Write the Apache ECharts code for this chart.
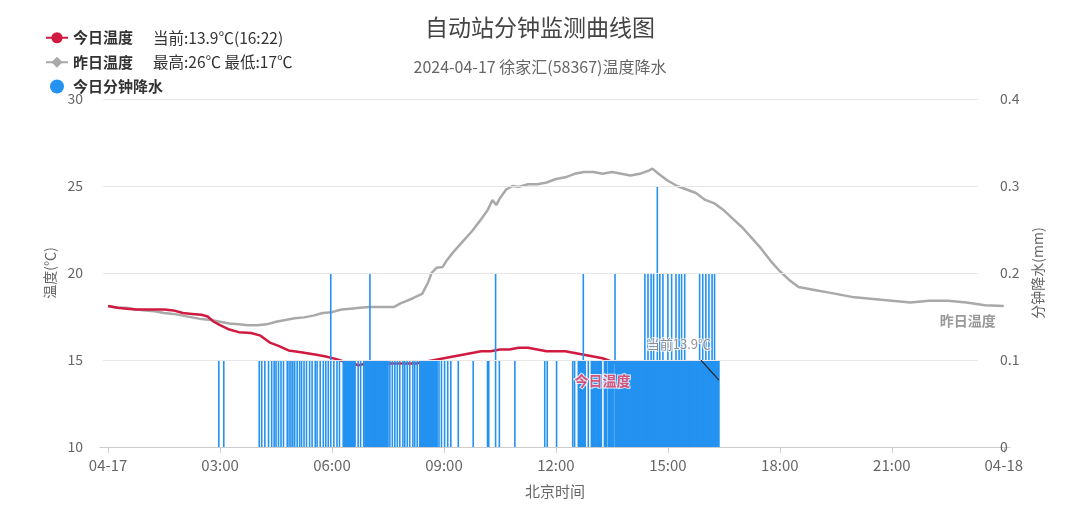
<!DOCTYPE html>
<html><head><meta charset="utf-8">
<script src="https://cdn.jsdelivr.net/npm/echarts@6/dist/echarts.min.js"></script>
<style>html,body{margin:0;padding:0;background:#fff}#c{width:1080px;height:522px}</style>
</head><body><div id="c"></div>
<script>
const chartTitle = '自动站分钟监测曲线图';
const dateLabel = '2024-04-17';
const stationName = '徐家汇(58367)';

const todayTimes = ['00:00','00:15','00:30','00:45','01:00','01:15','01:30','01:45','02:00','02:15','02:30','02:40','02:50','03:00','03:15','03:30','03:50','04:05','04:20','04:35','04:50','05:10','05:35','05:50','06:07','06:20','06:34','06:42','06:50','07:00','07:15','07:30','07:45','08:00','08:15','08:30','08:45','09:00','09:15','09:30','09:45','10:00','10:15','10:30','10:45','11:00','11:15','11:30','11:45','12:00','12:15','12:30','12:45','13:00','13:15','13:30','13:45','14:00','14:30','15:00','15:30','16:00','16:22'];
const todayTemps = [18.1,18.0,17.95,17.9,17.9,17.9,17.9,17.85,17.7,17.65,17.6,17.5,17.2,17.0,16.75,16.6,16.55,16.4,16.0,15.8,15.55,15.45,15.3,15.2,15.05,14.9,14.8,14.7,14.75,14.8,14.85,14.8,14.8,14.8,14.8,14.9,15.0,15.1,15.2,15.3,15.4,15.5,15.5,15.6,15.6,15.7,15.7,15.6,15.5,15.5,15.5,15.4,15.3,15.2,15.1,14.9,14.8,14.7,14.5,14.4,14.2,14.0,13.9];

const yesterdayTimes = ['00:00','00:15','00:30','00:45','01:00','01:15','01:30','01:45','02:00','02:15','02:30','02:45','03:00','03:15','03:30','03:45','04:00','04:15','04:30','04:45','05:00','05:15','05:30','05:45','06:00','06:15','06:30','06:45','07:00','07:15','07:40','07:50','08:00','08:10','08:25','08:35','08:40','08:48','08:58','09:05','09:15','09:30','09:45','10:00','10:10','10:18','10:24','10:30','10:40','10:50','11:00','11:15','11:30','11:45','12:00','12:15','12:30','12:45','13:00','13:15','13:30','13:45','14:00','14:15','14:30','14:35','14:45','15:00','15:15','15:30','15:45','16:00','16:15','16:30','16:45','17:00','17:15','17:30','17:45','18:00','18:15','18:30','18:45','19:00','19:15','19:30','19:45','20:00','20:30','21:00','21:30','22:00','22:30','23:00','23:30','24:00'];
const yesterdayTemps = [18.1,18.0,18.0,17.9,17.85,17.8,17.7,17.65,17.55,17.45,17.35,17.3,17.2,17.1,17.05,17.0,17.0,17.05,17.2,17.3,17.4,17.45,17.55,17.7,17.75,17.9,17.95,18.0,18.05,18.05,18.05,18.25,18.4,18.55,18.8,19.5,20.0,20.3,20.35,20.75,21.2,21.8,22.4,23.1,23.6,24.2,23.9,24.3,24.8,25.0,24.95,25.1,25.1,25.2,25.4,25.5,25.7,25.8,25.8,25.7,25.8,25.7,25.6,25.7,25.9,26.0,25.7,25.3,25.0,24.8,24.6,24.2,24.0,23.6,23.1,22.6,22.0,21.4,20.7,20.1,19.6,19.2,19.1,19.0,18.9,18.8,18.7,18.6,18.5,18.4,18.3,18.4,18.4,18.3,18.15,18.1];

// minute-of-day of each rainy minute, grouped by amount (mm)
const rain01Minutes = [178,186,
 243,247,252,258,263,267,270,274,278,282,288,291,294,297,300,304,308,311,315,319,324,328,333,336,341,346,350,354,363,368,372,
 378,379,380,381,382,383,384,385,386,387,388,389,390,391,392,393,394,395,396,397,
 402,406,411,
 413,414,415,416,417,418,419,420,422,423,424,425,426,427,428,429,430,431,432,433,434,435,436,437,438,439,440,441,442,443,444,445,446,447,448,449,450,
 453,457,461,465,469,474,477,481,485,490,493,497,
 501,502,503,504,505,506,507,508,509,510,511,512,513,514,515,516,517,518,519,520,521,522,523,524,525,526,527,528,529,
 532,536,541,546,551,563,587,610,612,629,654,702,706,721,747,750,
 756,757,758,759,760,761,762,763,765,766,767,
 772,777,778,779,780,781,782,783,785,786,787,788,789,790,791,792,793,798,799,800,801,804,805,806,807,808,809,810,811,812,
 816,817,818,819,820,821,822,823,824,825,826,827,828,829,830,831,832,833,834,835,836,837,838,839,840,841,842,843,844,845,846,847,848,849,850,851,852,853,854,855,856,857,858,859,860,861,862,
 864,865,866,867,869,870,871,872,874,875,876,878,879,880,881,882,884,885,886,888,889,890,891,
 893,894,895,896,897,898,899,901,902,903,904,905,907,908,909,910,911,912,914,915,916,917,919,920,921,923,924,925,926,
 928,929,930,931,932,933,934,935,936,937,938,939,940,941,942,943,944,945,946,947,948,949,950,
 952,953,954,955,957,958,959,960,962,963,964,965,967,968,969,970,972,973,974,976,977,978,979,980,981,982];
const rain02Minutes = [358,421,623,764,815,863,868,873,877,887,892,900,906,913,918,922,927,951,956,961,966,971,975];
const rain03Minutes = [883];

const xTickHours = [0,3,6,9,12,15,18,21,24];
const xTickLabels = ['04-17','03:00','06:00','09:00','12:00','15:00','18:00','21:00','04-18'];

// x axis works in minutes since 00:00 of 2024-04-17
const toMin = s => { const p = s.split(':').map(Number); return p[0]*60 + p[1]; };

const todayData = todayTimes.map((t,i) => [toMin(t), todayTemps[i]]);
const yesterdayData = yesterdayTimes.map((t,i) => [toMin(t), yesterdayTemps[i]]);
const rainData = []
  .concat(rain01Minutes.map(m => [m, 0.1]))
  .concat(rain02Minutes.map(m => [m, 0.2]))
  .concat(rain03Minutes.map(m => [m, 0.3]))
  .sort((a,b) => a[0]-b[0]);
const tickMins = xTickHours.map(h => h*60);

const lastIdx = todayTimes.length - 1;
const yMax = Math.max(...yesterdayTemps), yMin = Math.min(...yesterdayTemps);
const legendExtra = {
  '今日温度': '当前:' + todayTemps[lastIdx] + '℃(' + todayTimes[lastIdx] + ')',
  '昨日温度': '最高:' + Math.round(yMax) + '℃ 最低:' + Math.round(yMin) + '℃',
  '今日分钟降水': ''
};
const labelIdx = todayTimes.indexOf('13:15');

const RED = '#d01a40', GRAY = '#a9a9a9', BLUE = '#2492f0';
const FONT = '"Noto Sans CJK SC","Noto Sans",sans-serif';

const gridLevels = [15,20,25,30];
const gridStart = -8, gridEnd = 1398;

const chart = echarts.init(document.getElementById('c'));
chart.setOption({
  animation: false,
  backgroundColor: '#fff',
  textStyle: { fontFamily: FONT },
  title: {
    text: chartTitle,
    subtext: dateLabel + ' ' + stationName + '温度降水',
    left: 'center', top: 11, itemGap: 20,
    textStyle: { fontSize: 23, fontWeight: 'normal', color: '#444', fontFamily: FONT },
    subtextStyle: { fontSize: 16, color: '#666', fontFamily: FONT }
  },
  legend: {
    orient: 'vertical', left: 40, top: 25,
    itemWidth: 22, itemHeight: 14, itemGap: 9,
    data: [{name:'今日温度'},{name:'昨日温度'},{name:'今日分钟降水', icon:'circle'}],
    formatter: n => legendExtra[n] ? '{n|' + n + '}{e|' + legendExtra[n] + '}' : '{n|' + n + '}',
    textStyle: {
      rich: {
        n: { fontSize: 15, fontWeight: 'bold', color: '#333', fontFamily: FONT },
        e: { fontSize: 15.5, color: '#333', padding: [0,0,0,20], fontFamily: FONT }
      }
    }
  },
  grid: { left: 100, right: 70, top: 99, bottom: 75 },
  xAxis: {
    type: 'value',
    min: -13, max: 24*60 + 10,
    axisLine: { lineStyle: { color: '#cccccc' } },
    axisTick: { show: true, customValues: tickMins, length: 6, lineStyle: { color: '#cccccc' } },
    axisLabel: {
      customValues: tickMins, color: '#666', fontSize: 15, margin: 11,
      formatter: v => { const i = tickMins.indexOf(Math.round(v)); return i >= 0 ? xTickLabels[i] : ''; }
    },
    splitLine: { show: false },
    name: '北京时间', nameLocation: 'middle', nameGap: 37,
    nameTextStyle: { color: '#666', fontSize: 15 }
  },
  yAxis: [
    {
      type: 'value', min: 10, max: 30, interval: 5, position: 'left',
      axisLine: { show: false }, axisTick: { show: false }, splitLine: { show: false },
      axisLabel: { color: '#666', fontSize: 14, margin: 17 },
      name: '温度(℃)', nameLocation: 'middle', nameGap: 42,
      nameTextStyle: { color: '#666', fontSize: 14 }
    },
    {
      type: 'value', min: 0, max: 0.4, interval: 0.1, position: 'right',
      axisLine: { show: false }, axisTick: { show: false }, splitLine: { show: false },
      axisLabel: { color: '#666', fontSize: 14, margin: -10 },
      name: '分钟降水(mm)', nameLocation: 'middle', nameGap: 18,
      nameTextStyle: { color: '#666', fontSize: 14 }
    }
  ],
  series: [
    {
      type: 'line', name: '_grid', data: [], yAxisIndex: 0, z: 1, silent: true,
      markLine: {
        silent: true, symbol: 'none', animation: false,
        label: { show: false },
        lineStyle: { color: '#e6e6e6', width: 1, type: 'solid' },
        data: gridLevels.map(v => [{ coord: [gridStart, v] }, { coord: [gridEnd, v] }])
      }
    },
    {
      type: 'line', name: '昨日温度', data: yesterdayData, yAxisIndex: 0, z: 2,
      showSymbol: false, symbol: 'diamond', symbolSize: 9,
      itemStyle: { color: GRAY }, lineStyle: { color: GRAY, width: 2.5 },
      endLabel: {
        show: true, formatter: '昨日温度', offset: [-72, 15],
        color: '#999', fontSize: 14, fontWeight: 'bold'
      }
    },
    {
      type: 'line', name: '今日温度', data: todayData, yAxisIndex: 0, z: 2,
      showSymbol: false, symbol: 'circle', symbolSize: 8,
      itemStyle: { color: RED }, lineStyle: { color: RED, width: 2.5 }
    },
    {
      type: 'bar', name: '今日分钟降水', data: rainData, yAxisIndex: 1, z: 3,
      barWidth: 1.6, itemStyle: { color: BLUE }
    },
    {
      type: 'scatter', name: '_labels', yAxisIndex: 0, z: 10, silent: true,
      symbolSize: 0,
      data: [
        {
          value: todayData[labelIdx],
          label: { show: true, position: 'bottom', distance: 15, formatter: '今日温度',
                   color: '#d82a58', fontSize: 14, fontWeight: 'bold', textBorderColor: '#fff', textBorderWidth: 2 }
        },
        {
          value: todayData[lastIdx],
          label: { show: true, position: 'top', distance: 5, formatter: '当前' + todayTemps[lastIdx] + '℃',
                   color: '#777', fontSize: 13, textBorderColor: '#fff', textBorderWidth: 2 }
        }
      ],
      labelLayout: p => p.dataIndex === 1 ? { dx: -40, dy: -24 } : {}
    }
  ]
});

// guide line from the current-temperature point up to its label
const pt = chart.convertToPixel({ xAxisIndex: 0, yAxisIndex: 0 }, todayData[lastIdx]);
chart.setOption({
  graphic: [{
    type: 'line', z: 20, silent: true,
    shape: { x1: pt[0], y1: pt[1] + 1, x2: pt[0] - 18, y2: pt[1] - 19 },
    style: { stroke: '#222', lineWidth: 1.2 }
  }]
});
</script></body></html>
